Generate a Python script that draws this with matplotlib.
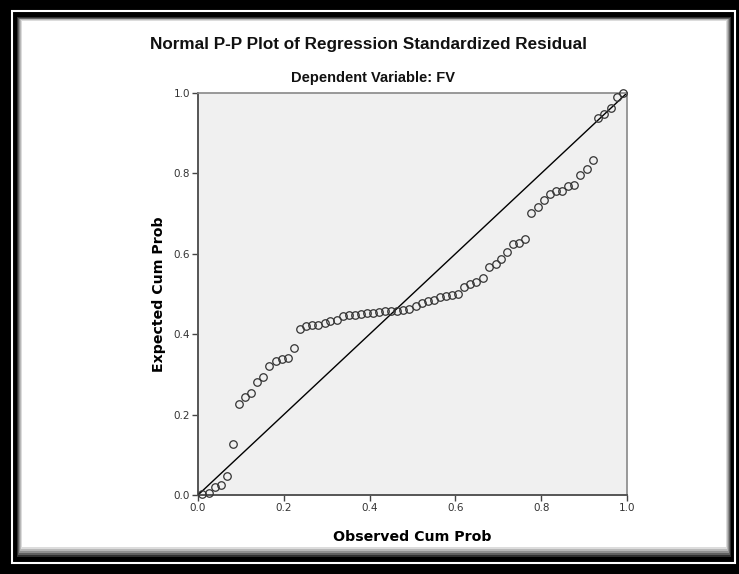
import matplotlib
matplotlib.use("Agg")
import matplotlib.pyplot as plt
from matplotlib.patches import Rectangle

W, H = 739, 574

# observed vs expected cumulative probabilities
observed = [
    0.009, 0.026, 0.040, 0.054, 0.068, 0.082, 0.096, 0.110, 0.124, 0.138,
    0.152, 0.166, 0.181, 0.195, 0.210, 0.224, 0.238, 0.252, 0.266, 0.280,
    0.295, 0.308, 0.323, 0.337, 0.351, 0.365, 0.380, 0.394, 0.408, 0.422,
    0.437, 0.451, 0.465, 0.479, 0.493, 0.507, 0.521, 0.535, 0.549, 0.564,
    0.578, 0.592, 0.606, 0.621, 0.635, 0.649, 0.665, 0.678, 0.694, 0.706,
    0.721, 0.735, 0.749, 0.762, 0.776, 0.792, 0.806, 0.821, 0.834, 0.848,
    0.863, 0.877, 0.891, 0.906, 0.920, 0.933, 0.947, 0.962, 0.977, 0.990,
]
expected = [
    0.002, 0.006, 0.019, 0.024, 0.048, 0.128, 0.226, 0.245, 0.253, 0.281,
    0.294, 0.321, 0.333, 0.338, 0.340, 0.365, 0.413, 0.420, 0.422, 0.423,
    0.427, 0.434, 0.436, 0.445, 0.447, 0.449, 0.451, 0.453, 0.453, 0.455,
    0.457, 0.458, 0.458, 0.460, 0.463, 0.471, 0.477, 0.483, 0.484, 0.492,
    0.494, 0.497, 0.499, 0.518, 0.526, 0.530, 0.539, 0.568, 0.575, 0.587,
    0.604, 0.624, 0.628, 0.638, 0.702, 0.717, 0.734, 0.748, 0.755, 0.755,
    0.769, 0.771, 0.796, 0.811, 0.833, 0.939, 0.948, 0.963, 0.991, 0.999,
]
ticks = [0.0, 0.2, 0.4, 0.6, 0.8, 1.0]
tick_labels = ["0.0", "0.2", "0.4", "0.6", "0.8", "1.0"]


def px_rect(fig, x0, y0, x1, y1, **kw):
    # rectangle given in pixel coords measured from the top-left corner
    r = Rectangle((x0 / W, 1 - y1 / H), (x1 - x0) / W, (y1 - y0) / H,
                  transform=fig.transFigure, zorder=-5, **kw)
    fig.add_artist(r)


fig = plt.figure(figsize=(W / 100, H / 100), dpi=100, facecolor="black")

# picture frame: thin white rule, then shaded panel
px_rect(fig, 12, 11, 735, 563, fill=False, edgecolor="white", linewidth=1.5)
shades = ["#303030", "#606060", "#909090", "#b8b8b8", "#dcdcdc"]
for i, c in enumerate(shades):
    px_rect(fig, 17 + i, 17 + i * 0.8, 731 - i, 557 - i * 2, facecolor=c, edgecolor="none")
px_rect(fig, 22, 21, 726, 547, facecolor="white", edgecolor="none")

ax = fig.add_axes([198 / W, 79 / H, 429 / W, 402 / H])
ax.set_facecolor("#f0f0f0")
ax.plot([0, 1], [0, 1], color="black", linewidth=1.0, zorder=2)
ax.plot(observed, expected, linestyle="none", marker="o", markersize=5.4,
        markerfacecolor="none", markeredgecolor="#333333", markeredgewidth=0.9,
        zorder=3, clip_on=False)

ax.set_xlim(0, 1)
ax.set_ylim(0, 1)
ax.set_xticks(ticks)
ax.set_yticks(ticks)
ax.set_xticklabels(tick_labels)
ax.set_yticklabels(tick_labels)
ax.tick_params(direction="out", length=4.3, width=1.0, color="#444444",
               labelsize=7.5, labelcolor="#333333", pad=1.5)
for side in ("left", "bottom"):
    ax.spines[side].set_color("#555555")
    ax.spines[side].set_linewidth(1.4)
for side in ("top", "right"):
    ax.spines[side].set_color("#888888")
    ax.spines[side].set_linewidth(1.2)

ax.set_xlabel("Observed Cum Prob", fontsize=10.2, fontweight="bold", labelpad=12.5)
ax.set_ylabel("Expected Cum Prob", fontsize=10.2, fontweight="bold", labelpad=5.5)

fig.text(369 / W, 1 - 45 / H, "Normal P-P Plot of Regression Standardized Residual",
         ha="center", va="center", fontsize=12.3, fontweight="bold",
         family="Liberation Sans", color="#111111")
fig.text(373 / W, 1 - 78 / H, "Dependent Variable: FV",
         ha="center", va="center", fontsize=10.5, fontweight="bold",
         family="Liberation Sans", color="#111111")

fig.savefig("out.png", dpi=100, facecolor="black")
